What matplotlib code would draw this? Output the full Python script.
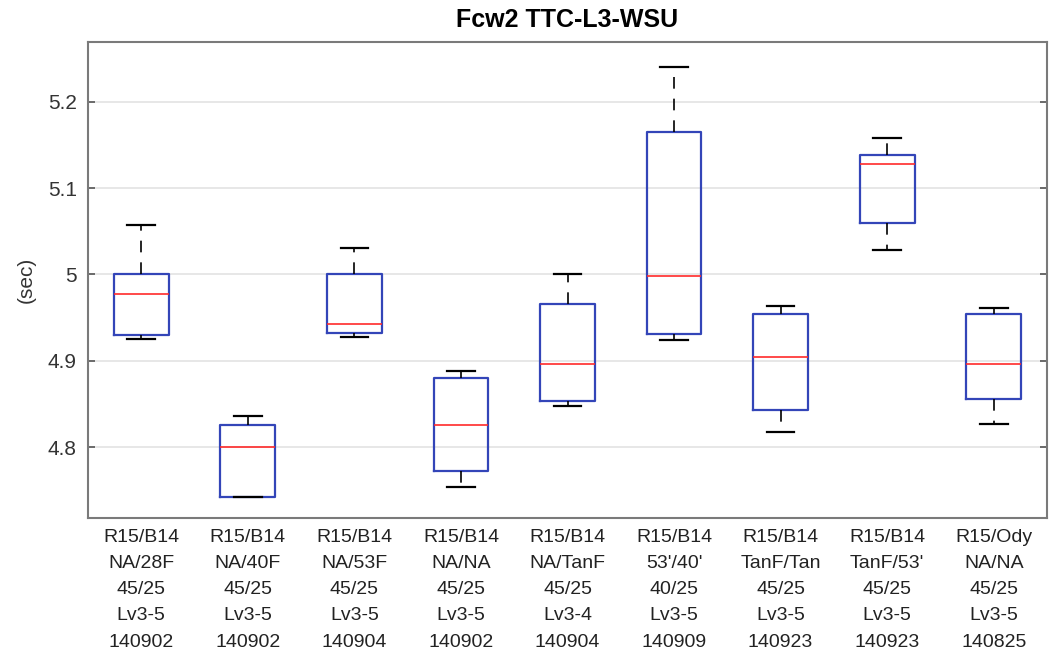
import matplotlib
matplotlib.use("Agg")
import matplotlib.pyplot as plt
import numpy as np

# box statistics (sec)
labels = [
    "R15/B14\nNA/28F\n45/25\nLv3-5\n140902",
    "R15/B14\nNA/40F\n45/25\nLv3-5\n140902",
    "R15/B14\nNA/53F\n45/25\nLv3-5\n140904",
    "R15/B14\nNA/NA\n45/25\nLv3-5\n140902",
    "R15/B14\nNA/TanF\n45/25\nLv3-4\n140904",
    "R15/B14\n53'/40'\n40/25\nLv3-5\n140909",
    "R15/B14\nTanF/Tan\n45/25\nLv3-5\n140923",
    "R15/B14\nTanF/53'\n45/25\nLv3-5\n140923",
    "R15/Ody\nNA/NA\n45/25\nLv3-5\n140825",
]
whislo = [4.925, 4.742, 4.928, 4.754, 4.847, 4.924, 4.817, 5.028, 4.827]
q1 = [4.930, 4.742, 4.932, 4.772, 4.853, 4.931, 4.843, 5.060, 4.856]
med = [4.977, 4.800, 4.943, 4.825, 4.896, 4.998, 4.904, 5.128, 4.896]
q3 = [5.001, 4.825, 5.001, 4.880, 4.966, 5.165, 4.954, 5.138, 4.954]
whishi = [5.057, 4.836, 5.031, 4.888, 5.000, 5.241, 4.964, 5.158, 4.961]

stats = [dict(whislo=a, q1=b, med=c, q3=d, whishi=e, fliers=[])
         for a, b, c, d, e in zip(whislo, q1, med, q3, whishi)]

plt.rcParams['font.family'] = ['Liberation Sans', 'DejaVu Sans']

fig = plt.figure(figsize=(10.49, 6.64), dpi=100)
ax = fig.add_axes([88 / 1049, 146 / 664, 959 / 1049, 476 / 664])

ax.bxp(stats, positions=np.arange(1, 10), widths=0.515, capwidths=0.26,
       boxprops=dict(color='#3345b8', linewidth=1.6),
       medianprops=dict(color='#ff2a2a', linewidth=1.2),
       whiskerprops=dict(color='black', linewidth=1.2, linestyle=(0, (7, 6))),
       capprops=dict(color='black', linewidth=1.6))

ax.set_xlim(0.5, 9.5)
ax.set_ylim(4.7177, 5.2695)
ax.set_yticks([4.8, 4.9, 5.0, 5.1, 5.2])
ax.set_yticklabels(['4.8', '4.9', '5', '5.1', '5.2'], fontsize=15, color='#333333')
ax.set_xticks(np.arange(1, 10))
ax.set_xticklabels(labels, fontsize=14, linespacing=1.7, color='#222222')
ax.tick_params(axis='x', length=0, pad=8)
ax.tick_params(axis='y', direction='in', length=5, width=1.2, color='#555555',
               right=True, pad=8)
ax.yaxis.grid(True, color='#e3e3e3', linewidth=1.2)
ax.set_axisbelow(True)
for s in ax.spines.values():
    s.set_color('#7a7a7a')
    s.set_linewidth(1.5)

ax.set_ylabel('(sec)', fontsize=15, labelpad=9, color='#333333')
ax.set_title('Fcw2 TTC-L3-WSU', fontsize=18, fontweight='bold', pad=11)

fig.savefig('out.png', dpi=100)
